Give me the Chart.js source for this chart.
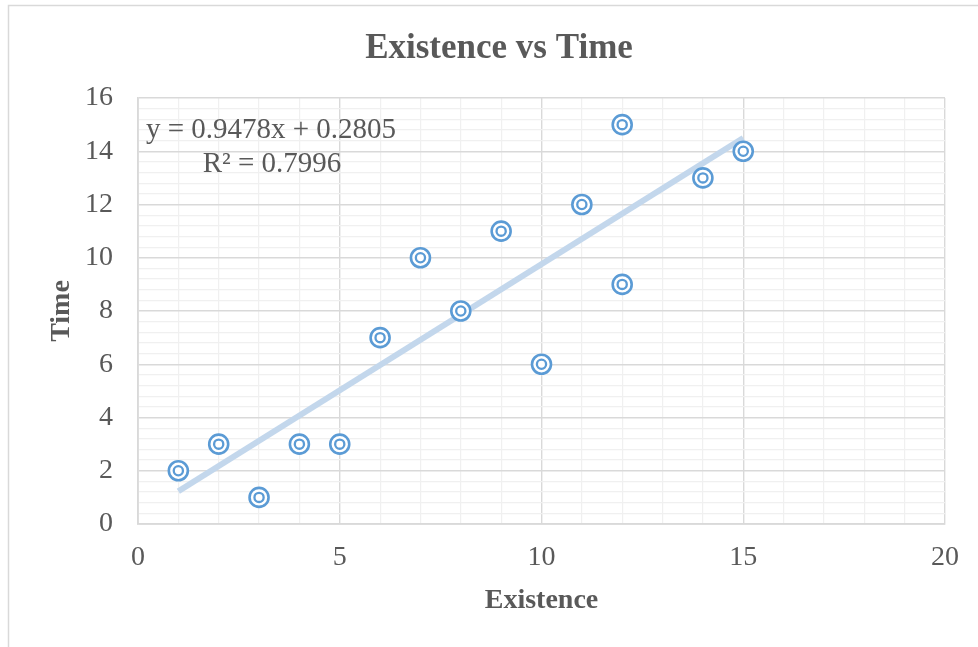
<!DOCTYPE html>
<html>
<head>
<meta charset="utf-8">
<title>Existence vs Time</title>
<script src="https://cdn.jsdelivr.net/npm/chart.js@4/dist/chart.umd.min.js"></script>
<style>
  html, body { margin: 0; padding: 0; background: #fff; }
  #wrap { width: 978px; height: 647px; position: relative; }
</style>
</head>
<body>
<div id="wrap"><canvas id="chart" width="978" height="647"></canvas></div>
<script>
// --- data ---
const existence = [1, 2, 3, 4, 5, 6, 7, 8, 9, 10, 11, 12, 12, 14, 15];
const timeValues = [2, 3, 1, 3, 3, 7, 10, 8, 11, 6, 12, 15, 9, 13, 14];
// linear trendline as printed on the chart
const trendSlope = 0.9478;
const trendIntercept = 0.2805;
const trendR2 = 0.7996;
const trendRange = [1, 15];

const textGrey = '#595959';
const markerBlue = '#5b9bd5';
const serif = "'Liberation Serif', 'Times New Roman', serif";

const points = existence.map((x, i) => ({ x: x, y: timeValues[i] }));
const trendPoints = trendRange.map(x => ({ x: x, y: trendSlope * x + trendIntercept }));

function isMultiple(v, step) {
    const r = v / step;
    return Math.abs(r - Math.round(r)) < 1e-6;
}

// equation label + outer chart border
const extras = {
    id: 'extras',
    beforeDraw(chart) {
        const c = chart.ctx;
        c.save();
        c.fillStyle = '#fff';
        c.fillRect(0, 0, chart.width, chart.height);
        c.strokeStyle = '#d9d9d9';
        c.lineWidth = 1.5;
        c.beginPath();
        c.moveTo(8.5, chart.height);
        c.lineTo(8.5, 5.5);
        c.lineTo(chart.width, 5.5);
        c.stroke();
        c.restore();
    },
    afterDatasetsDraw(chart) {
        const c = chart.ctx;
        const a = chart.chartArea;
        c.save();
        c.fillStyle = textGrey;
        c.font = '29px ' + serif;
        c.textAlign = 'center';
        c.textBaseline = 'alphabetic';
        c.fillText('y = ' + trendSlope + 'x + ' + trendIntercept, a.left + 133, a.top + 40);
        c.fillText('R\u00b2 = ' + trendR2, a.left + 134, a.top + 74);
        c.restore();
    }
};

new Chart(document.getElementById('chart').getContext('2d'), {
    type: 'scatter',
    data: {
        datasets: [
            {
                label: 'Trend',
                data: trendPoints,
                showLine: true,
                borderColor: '#c3d7ec',
                borderWidth: 6,
                borderCapStyle: 'butt',
                pointRadius: 0,
                order: 3
            },
            {
                label: 'Time',
                data: points,
                pointRadius: 9.5,
                borderWidth: 2.6,
                borderColor: markerBlue,
                backgroundColor: '#fff',
                order: 2
            },
            {
                label: 'Time inner',
                data: points,
                pointRadius: 4.6,
                borderWidth: 2.3,
                borderColor: markerBlue,
                backgroundColor: 'rgba(0,0,0,0)',
                order: 1
            }
        ]
    },
    options: {
        responsive: false,
        animation: false,
        events: [],
        layout: { padding: { left: 40, right: 20, top: 0, bottom: 0 } },
        plugins: {
            legend: { display: false },
            tooltip: { enabled: false },
            title: {
                display: true,
                text: 'Existence vs Time',
                color: textGrey,
                font: { family: serif, size: 35, weight: 'bold' },
                padding: { top: 28, bottom: 28 }
            }
        },
        scales: {
            x: {
                type: 'linear',
                min: 0,
                max: 20,
                afterFit(scale) { scale.height = 123; scale.paddingRight = 33; },
                ticks: {
                    stepSize: 1,
                    autoSkip: false,
                    maxRotation: 0,
                    padding: 17,
                    color: textGrey,
                    font: { family: serif, size: 28 },
                    callback: v => isMultiple(v, 5) ? v : ''
                },
                grid: {
                    drawTicks: false,
                    color: ctx => ctx.tick && isMultiple(ctx.tick.value, 5) ? '#d9d9d9' : '#f0f0f0',
                    lineWidth: ctx => ctx.tick && isMultiple(ctx.tick.value, 5) ? 1.4 : 1.2
                },
                border: { color: '#d9d9d9', width: 1.8 },
                title: {
                    display: true,
                    text: 'Existence',
                    color: textGrey,
                    font: { family: serif, size: 28, weight: 'bold' },
                    padding: { top: 0, bottom: 29 }
                }
            },
            y: {
                type: 'linear',
                min: 0,
                max: 16,
                afterFit(scale) { scale.width = 98; },
                ticks: {
                    stepSize: 0.4,
                    autoSkip: false,
                    padding: 25,
                    color: textGrey,
                    font: { family: serif, size: 28 },
                    callback: v => isMultiple(v, 2) ? Math.round(v) : ''
                },
                grid: {
                    drawTicks: false,
                    color: ctx => ctx.tick && isMultiple(ctx.tick.value, 2) ? '#d9d9d9' : '#f0f0f0',
                    lineWidth: ctx => ctx.tick && isMultiple(ctx.tick.value, 2) ? 1.4 : 1.2
                },
                border: { color: '#d9d9d9', width: 1.8 },
                title: {
                    display: true,
                    text: 'Time',
                    color: textGrey,
                    font: { family: serif, size: 28, weight: 'bold' },
                    padding: { top: 5, bottom: 0 }
                }
            }
        }
    },
    plugins: [extras]
});
</script>
</body>
</html>
